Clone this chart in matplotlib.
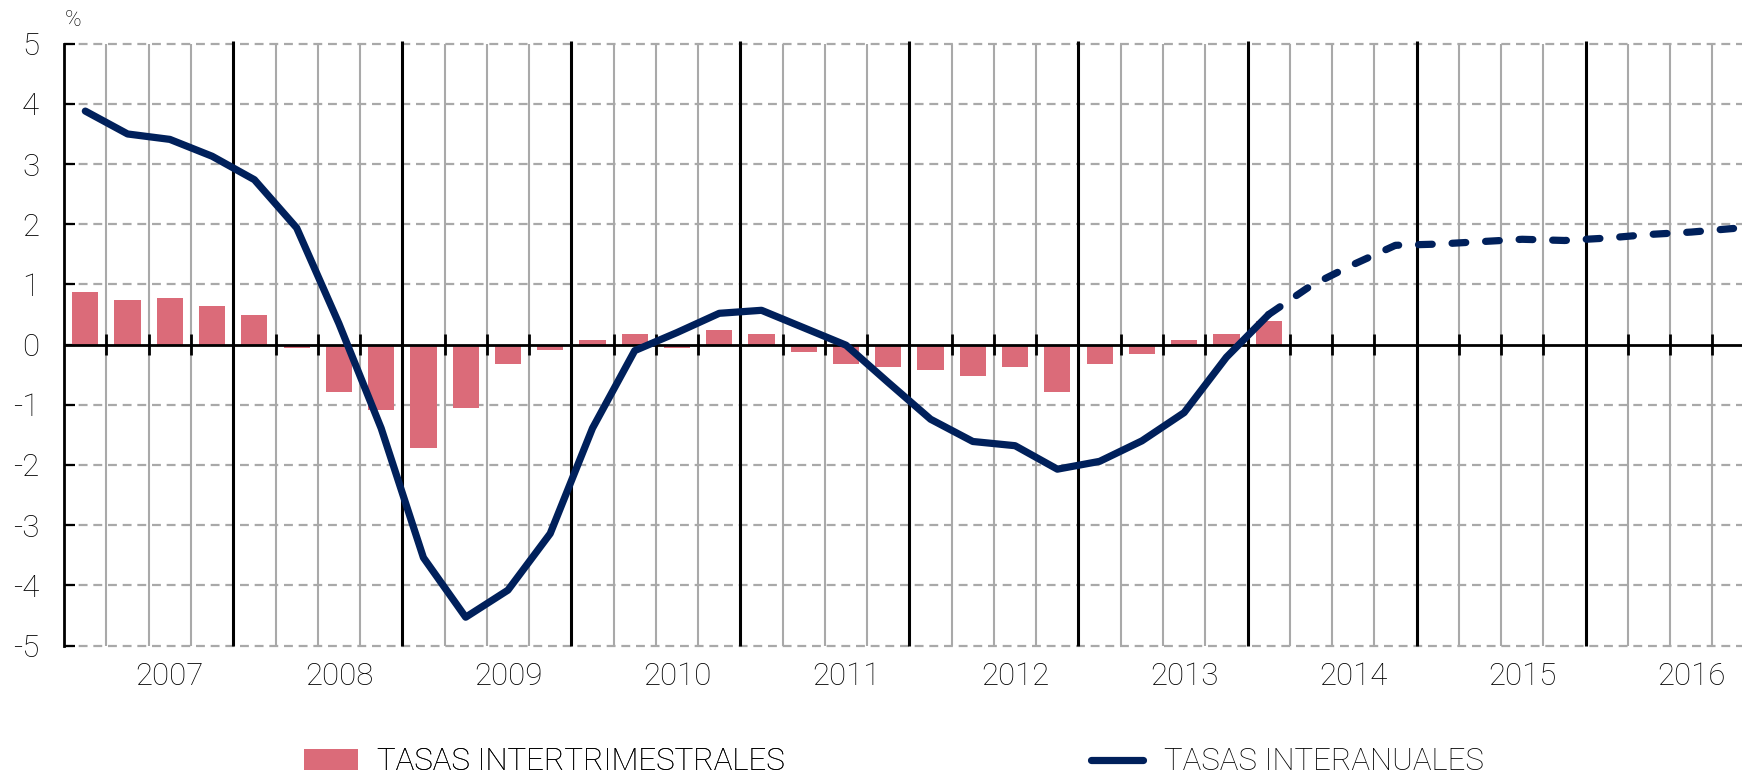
import numpy as np
from matplotlib import pyplot as plt

plt.rcParams['font.family'] = ['Roboto', 'DejaVu Sans']
plt.rcParams['font.weight'] = 'light'

# 2007Q1 .. 2016Q4 -> 40 quarters
years = ['2007', '2008', '2009', '2010', '2011', '2012', '2013', '2014', '2015', '2016']

# tasas intertrimestrales, 2007Q1 .. 2014Q1
quarterly = [0.87, 0.74, 0.78, 0.64,
             0.50, -0.06, -0.78, -1.08,
             -1.71, -1.05, -0.32, -0.09,
             0.07, 0.17, -0.05, 0.24,
             0.17, -0.12, -0.32, -0.38,
             -0.42, -0.52, -0.38, -0.78,
             -0.32, -0.15, 0.07, 0.17,
             0.40]

# tasas interanuales observadas, 2007Q1 .. 2014Q1
annual = [3.88, 3.50, 3.41, 3.13,
          2.74, 1.94, 0.35, -1.39,
          -3.54, -4.53, -4.08, -3.14,
          -1.39, -0.10, 0.20, 0.52,
          0.57, 0.28, -0.01, -0.63,
          -1.24, -1.61, -1.68, -2.07,
          -1.94, -1.60, -1.13, -0.21,
          0.50]

# proyeccion, 2014Q1 .. 2016Q4
forecast = [0.50, 0.98, 1.33, 1.65,
            1.67, 1.71, 1.75, 1.73,
            1.77, 1.83, 1.87, 1.93]

BAR_COLOR = '#db6b79'
LINE_COLOR = '#00205b'
GRID_COLOR = '#a9a9a9'
FS = 22.5

W, H = 1742, 774
fig = plt.figure(figsize=(W / 100, H / 100), dpi=100)
ax = fig.add_axes([64.2 / W, 1 - 645.5 / H, 1 - 64.2 / W, (645.5 - 43.7) / H])

n_q = len(years) * 4
x_bar = np.arange(len(quarterly)) + 0.5
x_obs = np.arange(len(annual)) + 0.5
x_fc = np.arange(len(annual) - 1, len(annual) - 1 + len(forecast)) + 0.5

# grid
for y in range(-5, 6):
    if y != 0:
        ax.hlines(y, 0, n_q, color=GRID_COLOR, lw=1.6, linestyles=(0, (4, 2.6)),
                  zorder=1, clip_on=False)
bounds = np.arange(1, n_q)
ax.vlines([b for b in bounds if b % 4], -5, 5, color=GRID_COLOR, lw=1.5, zorder=1)
ax.vlines([b for b in bounds if b % 4 == 0], -5, 5.05, color='black', lw=2.2,
          zorder=3, clip_on=False)

bars = ax.bar(x_bar, quarterly, width=0.62, color=BAR_COLOR, zorder=2)

ax.axhline(0, color='black', lw=2, zorder=3)
ax.vlines(bounds, -0.18, 0.18, color='black', lw=2, zorder=3)

line, = ax.plot(x_obs, annual, color=LINE_COLOR, lw=5.2, zorder=4,
                solid_capstyle='round', solid_joinstyle='round')
ax.plot(x_fc, forecast, color=LINE_COLOR, lw=5.2, zorder=4,
        linestyle=(0, (1.9, 2.75)), dash_capstyle='round')

ax.set_xlim(0, 39.7)
ax.set_ylim(-5, 5)

for s in ['top', 'right', 'bottom']:
    ax.spines[s].set_visible(False)
ax.spines['left'].set_linewidth(2)

ax.set_yticks(range(-5, 6))
ax.set_yticklabels([str(v) for v in range(-5, 6)])
ax.tick_params(axis='y', direction='in', length=8, width=1.6, pad=18, labelsize=FS)
ax.set_xticks([4 * k + 2.5 for k in range(len(years))])
ax.set_xticklabels(years)
ax.tick_params(axis='x', length=0, pad=12, labelsize=FS)

fig.text(73 / W, 1 - 20 / H, '%', ha='center', va='center', fontsize=16)

leg1 = fig.legend([bars], ['TASAS INTERTRIMESTRALES'], loc='center left',
                  bbox_to_anchor=(304 / W, 1 - 762 / H), frameon=False, fontsize=FS,
                  handlelength=1.73, handleheight=0.61, handletextpad=0.62,
                  borderpad=0, borderaxespad=0)
leg2 = fig.legend([line], ['TASAS INTERANUALES'], loc='center left',
                  bbox_to_anchor=(1091 / W, 1 - 762 / H), frameon=False, fontsize=FS,
                  handlelength=1.66, handletextpad=0.69,
                  borderpad=0, borderaxespad=0)
fig.add_artist(leg1)

fig.savefig('out.png', dpi=100)
